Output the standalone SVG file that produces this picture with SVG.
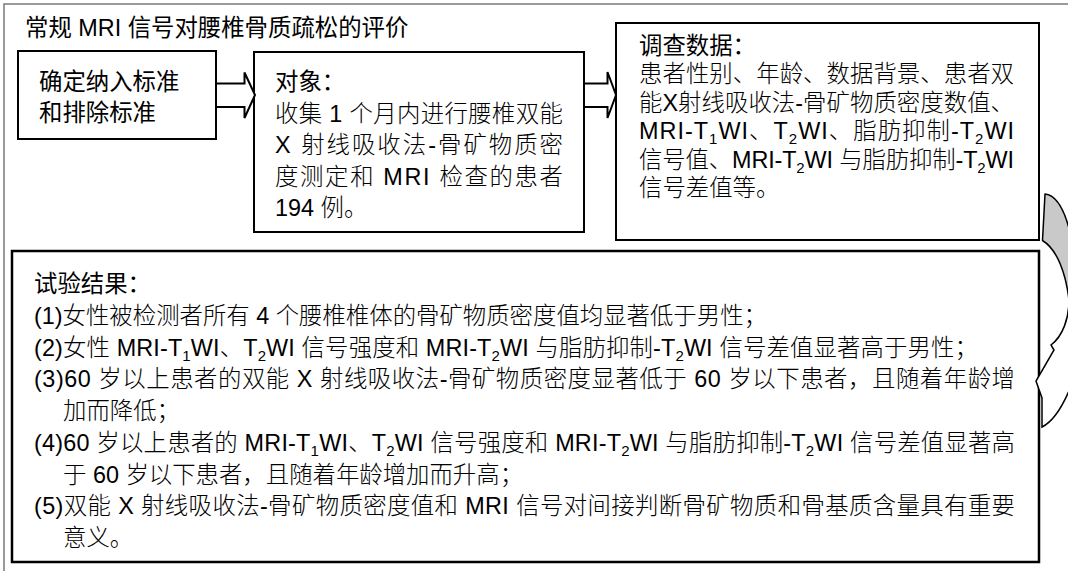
<svg xmlns="http://www.w3.org/2000/svg" width="1068" height="571" viewBox="0 0 1068 571">
  <style>
    .frame{fill:none;stroke:#7a7a7a;stroke-width:1.5}
    .box{fill:#fff;stroke:#000;stroke-width:2}
    .rbox{fill:#fff;stroke:#000;stroke-width:2.5}
    .t{font-family:"Liberation Sans","Noto Sans CJK SC",sans-serif;font-size:23.4px;fill:#000}
    .b{font-weight:300}
    .sub{font-size:15px}
    .arrow{fill:#fff;stroke:#000;stroke-width:2;stroke-linejoin:miter}
    .cback{fill:#c9c9c9;stroke:#000;stroke-width:1.5;stroke-linejoin:round}
    .cfront{fill:#fff;stroke:#000;stroke-width:1.5;stroke-linejoin:miter}
  </style>
  <rect width="1068" height="571" fill="#fff"/>
  <g id="frame">
    <rect class="frame" x="4" y="4" width="1090" height="590"/>
    <text class="t" x="25" y="36">常规 MRI 信号对腰椎骨质疏松的评价</text>
  </g>
  <g id="criteria">
    <rect class="box" x="18" y="51" width="198" height="88"/>
    <text class="t" x="39" y="89.5">确定纳入标准</text>
    <text class="t" x="39" y="121">和排除标准</text>
  </g>
  <g id="subjects">
    <rect class="box" x="254" y="52" width="330" height="180"/>
    <text class="t" x="275" y="90">对象：</text>
    <text class="t b" x="275" y="121.6" textLength="288" lengthAdjust="spacing">收集 1 个月内进行腰椎双能</text>
    <text class="t b" x="275" y="153.2" textLength="288" lengthAdjust="spacing">X 射线吸收法-骨矿物质密</text>
    <text class="t b" x="275" y="184.8" textLength="288" lengthAdjust="spacing">度测定和 MRI 检查的患者</text>
    <text class="t b" x="275" y="216.4">194 例。</text>
  </g>
  <g id="data">
    <rect class="box" x="616" y="23" width="423" height="217"/>
    <text class="t" x="639" y="54">调查数据：</text>
    <text class="t b" x="639" y="82.4" textLength="375" lengthAdjust="spacing">患者性别、年龄、数据背景、患者双</text>
    <text class="t b" x="639" y="110.8" textLength="375" lengthAdjust="spacing">能X射线吸收法-骨矿物质密度数值、</text>
    <text class="t b" x="639" y="139.2" textLength="375" lengthAdjust="spacing">MRI-T<tspan class="sub" dy="5">1</tspan><tspan dy="-5">WI、T</tspan><tspan class="sub" dy="5">2</tspan><tspan dy="-5">WI、脂肪抑制-T</tspan><tspan class="sub" dy="5">2</tspan><tspan dy="-5">WI</tspan></text>
    <text class="t b" x="639" y="167.6" textLength="375" lengthAdjust="spacing">信号值、MRI-T<tspan class="sub" dy="5">2</tspan><tspan dy="-5">WI 与脂肪抑制-T</tspan><tspan class="sub" dy="5">2</tspan><tspan dy="-5">WI</tspan></text>
    <text class="t b" x="639" y="196">信号差值等。</text>
  </g>
  <g id="results">
    <rect class="rbox" x="12" y="251" width="1027" height="311"/>
    <text class="t" x="34" y="292">试验结果：</text>
    <text class="t b" x="34" y="323.75">(1)女性被检测者所有 4 个腰椎椎体的骨矿物质密度值均显著低于男性；</text>
    <text class="t b" x="34" y="355.5" textLength="944" lengthAdjust="spacing">(2)女性 MRI-T<tspan class="sub" dy="5">1</tspan><tspan dy="-5">WI、T</tspan><tspan class="sub" dy="5">2</tspan><tspan dy="-5">WI 信号强度和 MRI-T</tspan><tspan class="sub" dy="5">2</tspan><tspan dy="-5">WI 与脂肪抑制-T</tspan><tspan class="sub" dy="5">2</tspan><tspan dy="-5">WI 信号差值显著高于男性；</tspan></text>
    <text class="t b" x="34" y="387.25" textLength="981" lengthAdjust="spacing">(3)60 岁以上患者的双能 X 射线吸收法-骨矿物质密度显著低于 60 岁以下患者，且随着年龄增</text>
    <text class="t b" x="63" y="419">加而降低；</text>
    <text class="t b" x="34" y="450.75" textLength="981" lengthAdjust="spacing">(4)60 岁以上患者的 MRI-T<tspan class="sub" dy="5">1</tspan><tspan dy="-5">WI、T</tspan><tspan class="sub" dy="5">2</tspan><tspan dy="-5">WI 信号强度和 MRI-T</tspan><tspan class="sub" dy="5">2</tspan><tspan dy="-5">WI 与脂肪抑制-T</tspan><tspan class="sub" dy="5">2</tspan><tspan dy="-5">WI 信号差值显著高</tspan></text>
    <text class="t b" x="63" y="482.5">于 60 岁以下患者，且随着年龄增加而升高；</text>
    <text class="t b" x="34" y="514.25" textLength="981" lengthAdjust="spacing">(5)双能 X 射线吸收法-骨矿物质密度值和 MRI 信号对间接判断骨矿物质和骨基质含量具有重要</text>
    <text class="t b" x="63" y="546">意义。</text>
  </g>
  <g id="connectors">
    <polygon class="arrow" points="216,83.5 244.5,83.5 244.5,72.5 255,95 244.5,118 244.5,107 216,107"/>
    <polygon class="arrow" points="584,83.5 607.5,83.5 607.5,72 616,95 607.5,118 607.5,107 584,107"/>
    <path class="cback" d="M1045,194 C1055,195 1064,208 1070,232 L1072,300 L1069,300 C1066,275 1058,250 1042.5,240.5 Z"/>
    <path class="cfront" d="M1069,300 C1069,318 1063,336 1051,345 L1054,350 L1036,381 L1042,398 L1042,427 C1056,420 1068,400 1080,360 L1080,300 Z"/>
  </g>
</svg>
